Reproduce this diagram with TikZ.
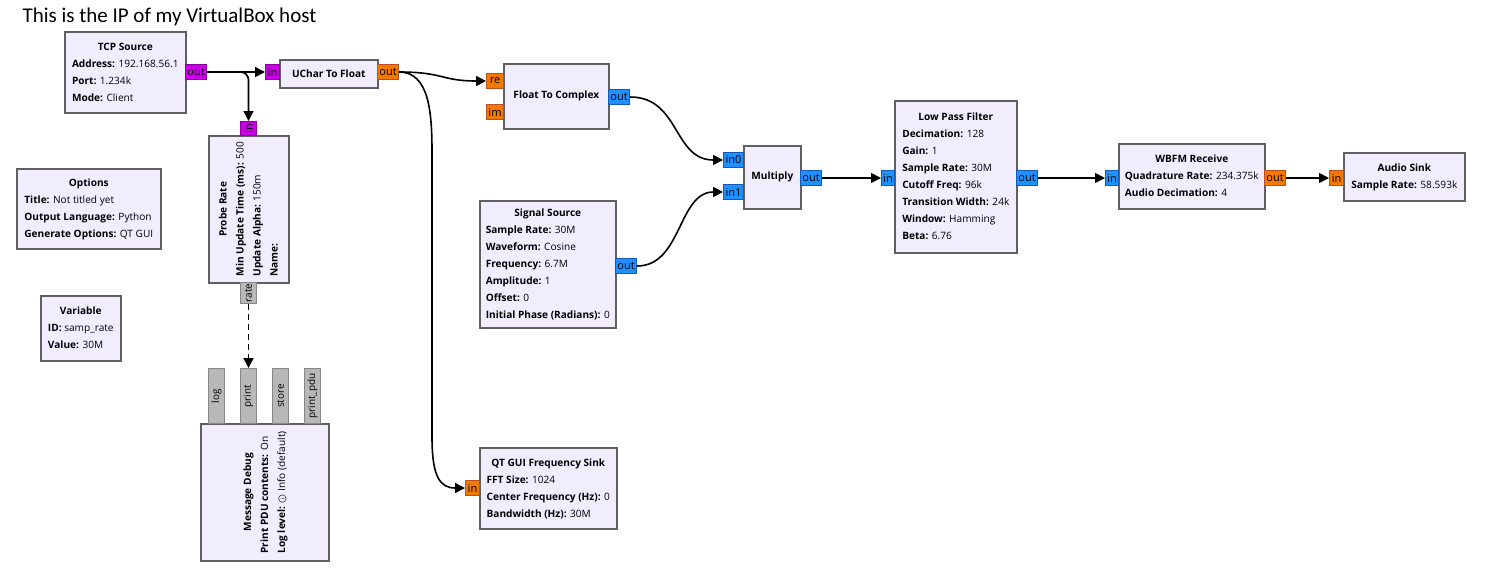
\documentclass[tikz,border=0pt]{standalone}
\usepackage{fontspec}
\setmainfont{Open Sans}
\newfontfamily\notefont{Carlito}
\newfontfamily\symbfont{DejaVu Sans}
\usetikzlibrary{arrows.meta}

\definecolor{blkfill}{RGB}{241,237,254}
\definecolor{blkline}{RGB}{96,96,96}
\definecolor{bytefill}{RGB}{204,0,232}
\definecolor{byteline}{RGB}{140,0,160}
\definecolor{floatfill}{RGB}{245,121,0}
\definecolor{floatline}{RGB}{185,80,30}
\definecolor{cplxfill}{RGB}{30,144,255}
\definecolor{cplxline}{RGB}{20,90,180}
\definecolor{msgfill}{RGB}{184,184,184}
\definecolor{msgline}{RGB}{135,135,135}

\newcommand{\blkfont}{\fontsize{10.1}{17}\selectfont}
\newcommand{\blktitle}[1]{\multicolumn{1}{@{}c@{}}{\textbf{#1}}}
\newcommand{\infomark}{{\symbfont\ooalign{○\cr\hidewidth\raisebox{0.1ex}{\fontsize{5}{5}\selectfont i}\hidewidth\cr}}}

\tikzset{
  blk/.style={draw=blkline, fill=blkfill, line width=1.6pt, anchor=north west,
    inner sep=0pt, font=\blkfont},
  port/.style={line width=1pt, anchor=north west, inner sep=0pt,
    font=\fontsize{11}{12}\selectfont, minimum height=15pt},
  byteport/.style={port, draw=byteline, fill=bytefill},
  floatport/.style={port, draw=floatline, fill=floatfill},
  cplxport/.style={port, draw=cplxline, fill=cplxfill},
  msgport/.style={port, draw=msgline, fill=msgfill, font=\fontsize{10}{12}\selectfont},
  wire/.style={line width=1.6pt, -{Triangle[length=10pt,width=10pt]}},
  msgwire/.style={wire, line width=1.9pt, dash pattern=on 6pt off 4pt},
}

\begin{document}
\begin{tikzpicture}[x=1pt, y=1pt]
\fill[white] (0,0) rectangle (1485,-584);
\useasboundingbox (0,0) rectangle (1485,-584);

\node[anchor=base west, font=\notefont\fontsize{21}{24}\selectfont] (note) at (19,-22)
  {This is the IP of my VirtualBox host};

% blocks
\node[blk, minimum width=121pt, minimum height=81pt] (tcp) at (64,-31)
  {\begin{tabular}{@{}l@{}}\blktitle{TCP Source}\\ \textbf{Address:} 192.168.56.1\\
   \textbf{Port:} 1.234k\\ \textbf{Mode:} Client\end{tabular}};
\node[blk, minimum width=98pt, minimum height=28pt] (uc) at (279,-59)
  {\textbf{UChar To Float}};
\node[blk, minimum width=80pt, minimum height=147pt] (pr) at (208,-135)
  {\rotatebox{90}{\begin{tabular}{@{}l@{}}\blktitle{Probe Rate}\\
   \textbf{Min Update Time (ms):} 500\\ \textbf{Update Alpha:} 150m\\
   \textbf{Name:}\end{tabular}}};
\node[blk, minimum width=144pt, minimum height=80pt] (opt) at (16,-168)
  {\begin{tabular}{@{}l@{}}\blktitle{Options}\\ \textbf{Title:} Not titled yet\\
   \textbf{Output Language:} Python\\ \textbf{Generate Options:} QT GUI\end{tabular}};
\node[blk, minimum width=80pt, minimum height=65pt] (var) at (40,-295)
  {\begin{tabular}{@{}l@{}}\blktitle{Variable}\\ \textbf{ID:} samp\_rate\\
   \textbf{Value:} 30M\end{tabular}};
\node[blk, minimum width=128pt, minimum height=137pt] (md) at (200,-423)
  {\rotatebox{90}{\begin{tabular}{@{}l@{}}\blktitle{Message Debug}\\
   \textbf{Print PDU contents:} On\\
   \textbf{Log level:} \infomark{} Info (default)\end{tabular}}};
\node[blk, minimum width=105pt, minimum height=65pt] (ftc) at (503,-63)
  {\textbf{Float To Complex}};
\node[blk, minimum width=57pt, minimum height=63pt] (mult) at (743,-145)
  {\textbf{Multiply}};
\node[blk, minimum width=136pt, minimum height=127pt] (sig) at (479,-200)
  {\begin{tabular}{@{}l@{}}\blktitle{Signal Source}\\ \textbf{Sample Rate:} 30M\\
   \textbf{Waveform:} Cosine\\ \textbf{Frequency:} 6.7M\\ \textbf{Amplitude:} 1\\
   \textbf{Offset:} 0\\ \textbf{Initial Phase (Radians):} 0\end{tabular}};
\node[blk, minimum width=122pt, minimum height=152pt] (lpf) at (894,-100)
  {\begin{tabular}{@{}l@{}}\blktitle{Low Pass Filter}\\ \textbf{Decimation:} 128\\
   \textbf{Gain:} 1\\ \textbf{Sample Rate:} 30M\\ \textbf{Cutoff Freq:} 96k\\
   \textbf{Transition Width:} 24k\\ \textbf{Window:} Hamming\\
   \textbf{Beta:} 6.76\end{tabular}};
\node[blk, minimum width=146pt, minimum height=65pt] (wbfm) at (1118,-143)
  {\begin{tabular}{@{}l@{}}\blktitle{WBFM Receive}\\
   \textbf{Quadrature Rate:} 234.375k\\ \textbf{Audio Decimation:} 4\end{tabular}};
\node[blk, minimum width=121pt, minimum height=48pt] (audio) at (1343,-152)
  {\begin{tabular}{@{}l@{}}\blktitle{Audio Sink}\\
   \textbf{Sample Rate:} 58.593k\end{tabular}};
\node[blk, minimum width=137pt, minimum height=81pt] (qt) at (479,-447)
  {\begin{tabular}{@{}l@{}}\blktitle{QT GUI Frequency Sink}\\ \textbf{FFT Size:} 1024\\
   \textbf{Center Frequency (Hz):} 0\\ \textbf{Bandwidth (Hz):} 30M\end{tabular}};

% ports
\node[byteport, minimum width=21pt] (tcp-out) at (185,-64) {out};
\node[byteport, minimum width=14pt] (uc-in) at (265,-64) {in};
\node[floatport, minimum width=21pt] (uc-out) at (377,-64) {out};
\node[byteport, minimum width=16pt, minimum height=14pt] (pr-in) at (240,-121)
  {\rotatebox{90}{in}};
\node[msgport, minimum width=16pt, minimum height=21pt] (pr-rate) at (240,-282)
  {\rotatebox{90}{rate}};
\node[msgport, minimum width=16pt, minimum height=55pt] (md-log) at (208,-368)
  {\rotatebox{90}{log}};
\node[msgport, minimum width=16pt, minimum height=55pt] (md-print) at (240,-368)
  {\rotatebox{90}{print}};
\node[msgport, minimum width=16pt, minimum height=55pt] (md-store) at (272,-368)
  {\rotatebox{90}{store}};
\node[msgport, minimum width=16pt, minimum height=55pt] (md-pdu) at (304,-368)
  {\rotatebox{90}{print\_pdu}};
\node[floatport, minimum width=17pt] (ftc-re) at (486,-73) {re};
\node[floatport, minimum width=17pt] (ftc-im) at (486,-104) {im};
\node[cplxport, minimum width=21pt] (ftc-out) at (608,-89) {out};
\node[cplxport, minimum width=20pt] (mult-in0) at (723,-152) {in0};
\node[cplxport, minimum width=20pt] (mult-in1) at (723,-184) {in1};
\node[cplxport, minimum width=21pt] (mult-out) at (800,-170) {out};
\node[cplxport, minimum width=21pt] (sig-out) at (615,-258) {out};
\node[cplxport, minimum width=13pt] (lpf-in) at (881,-170) {in};
\node[cplxport, minimum width=21pt] (lpf-out) at (1016,-170) {out};
\node[cplxport, minimum width=13pt] (wbfm-in) at (1105,-170) {in};
\node[floatport, minimum width=21pt] (wbfm-out) at (1264,-170) {out};
\node[floatport, minimum width=14pt] (audio-in) at (1329,-170) {in};
\node[floatport, minimum width=14pt] (qt-in) at (465,-480) {in};

% connections
\draw[wire] (tcp-out.east) -- (uc-in.west);
\draw[wire, rounded corners=8pt] (tcp-out.east) -| (pr-in.north);
\draw[wire] (uc-out.east) .. controls +(45,0) and +(-45,0) .. (ftc-re.west);
\draw[wire] (uc-out.east) .. controls +(30,0) and +(0,40) .. ++(33,-80)
  -- ++(0,-285) .. controls +(0,-40) and +(-25,0) .. (qt-in.west);
\draw[wire] (ftc-out.east) .. controls +(50,0) and +(-50,0) .. (mult-in0.west);
\draw[wire] (sig-out.east) .. controls +(45,0) and +(-45,0) .. (mult-in1.west);
\draw[wire] (mult-out.east) -- (lpf-in.west);
\draw[wire] (lpf-out.east) -- (wbfm-in.west);
\draw[wire] (wbfm-out.east) -- (audio-in.west);
\draw[msgwire] (pr-rate.south) -- (md-print.north);
\end{tikzpicture}
\end{document}
